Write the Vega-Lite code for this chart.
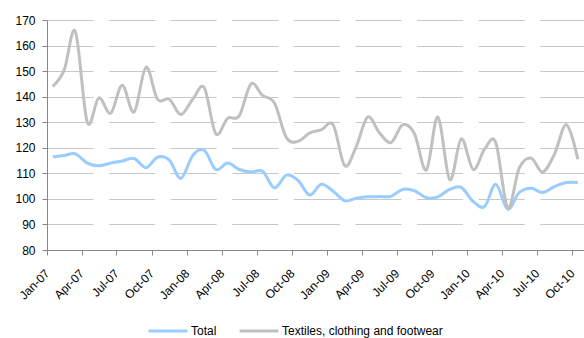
{
  "$schema": "https://vega.github.io/schema/vega-lite/v6.json",
  "width": 537,
  "height": 230,
  "autosize": {"type": "none"},
  "padding": {"left": 47, "top": 20, "right": 0, "bottom": 88},
  "background": "white",
  "config": {
    "view": {"stroke": null},
    "font": "Liberation Sans"
  },
  "data": {
    "values": [
      {"month": "2007-01-16", "Total": 116.5, "Textiles, clothing and footwear": 144},
      {"month": "2007-02-15", "Total": 117, "Textiles, clothing and footwear": 150.5},
      {"month": "2007-03-16", "Total": 117.6, "Textiles, clothing and footwear": 165.5},
      {"month": "2007-04-16", "Total": 114, "Textiles, clothing and footwear": 130},
      {"month": "2007-05-16", "Total": 113, "Textiles, clothing and footwear": 139.5},
      {"month": "2007-06-16", "Total": 114, "Textiles, clothing and footwear": 133.5},
      {"month": "2007-07-16", "Total": 114.8, "Textiles, clothing and footwear": 144.5},
      {"month": "2007-08-16", "Total": 115.8, "Textiles, clothing and footwear": 134},
      {"month": "2007-09-16", "Total": 112.2, "Textiles, clothing and footwear": 151.5},
      {"month": "2007-10-16", "Total": 116.3, "Textiles, clothing and footwear": 139},
      {"month": "2007-11-16", "Total": 115.2, "Textiles, clothing and footwear": 139},
      {"month": "2007-12-16", "Total": 108, "Textiles, clothing and footwear": 133},
      {"month": "2008-01-16", "Total": 117, "Textiles, clothing and footwear": 139},
      {"month": "2008-02-15", "Total": 119, "Textiles, clothing and footwear": 143.5},
      {"month": "2008-03-16", "Total": 111.5, "Textiles, clothing and footwear": 125.5},
      {"month": "2008-04-16", "Total": 114, "Textiles, clothing and footwear": 131.5},
      {"month": "2008-05-16", "Total": 111.5, "Textiles, clothing and footwear": 132.5},
      {"month": "2008-06-16", "Total": 110.5, "Textiles, clothing and footwear": 145},
      {"month": "2008-07-16", "Total": 110.8, "Textiles, clothing and footwear": 140.5},
      {"month": "2008-08-16", "Total": 104.3, "Textiles, clothing and footwear": 137.5},
      {"month": "2008-09-16", "Total": 109.3, "Textiles, clothing and footwear": 124},
      {"month": "2008-10-16", "Total": 107.3, "Textiles, clothing and footwear": 122.5},
      {"month": "2008-11-16", "Total": 101.5, "Textiles, clothing and footwear": 125.8},
      {"month": "2008-12-16", "Total": 105.7, "Textiles, clothing and footwear": 127},
      {"month": "2009-01-16", "Total": 103, "Textiles, clothing and footwear": 129},
      {"month": "2009-02-15", "Total": 99.3, "Textiles, clothing and footwear": 113},
      {"month": "2009-03-16", "Total": 100.2, "Textiles, clothing and footwear": 120},
      {"month": "2009-04-16", "Total": 100.8, "Textiles, clothing and footwear": 132},
      {"month": "2009-05-16", "Total": 100.9, "Textiles, clothing and footwear": 126},
      {"month": "2009-06-16", "Total": 101, "Textiles, clothing and footwear": 122},
      {"month": "2009-07-16", "Total": 103.7, "Textiles, clothing and footwear": 129},
      {"month": "2009-08-16", "Total": 103.2, "Textiles, clothing and footwear": 125.5},
      {"month": "2009-09-16", "Total": 100.5, "Textiles, clothing and footwear": 111.3},
      {"month": "2009-10-16", "Total": 100.8, "Textiles, clothing and footwear": 132},
      {"month": "2009-11-16", "Total": 103.7, "Textiles, clothing and footwear": 107.5},
      {"month": "2009-12-16", "Total": 104.5, "Textiles, clothing and footwear": 123.5},
      {"month": "2010-01-16", "Total": 99, "Textiles, clothing and footwear": 111.5},
      {"month": "2010-02-15", "Total": 97, "Textiles, clothing and footwear": 119.5},
      {"month": "2010-03-16", "Total": 105.7, "Textiles, clothing and footwear": 122},
      {"month": "2010-04-16", "Total": 96, "Textiles, clothing and footwear": 96.5},
      {"month": "2010-05-16", "Total": 102.5, "Textiles, clothing and footwear": 112},
      {"month": "2010-06-16", "Total": 104.2, "Textiles, clothing and footwear": 116},
      {"month": "2010-07-16", "Total": 102.5, "Textiles, clothing and footwear": 110.5},
      {"month": "2010-08-16", "Total": 104.8, "Textiles, clothing and footwear": 117.5},
      {"month": "2010-09-16", "Total": 106.4, "Textiles, clothing and footwear": 129},
      {"month": "2010-10-16", "Total": 106.4, "Textiles, clothing and footwear": 115.5}
    ]
  },
  "transform": [
    {"fold": ["Total", "Textiles, clothing and footwear"], "as": ["series", "index"]}
  ],
  "mark": {"type": "line", "interpolate": "cardinal", "strokeWidth": 3, "clip": true},
  "encoding": {
    "x": {
      "field": "month",
      "type": "temporal",
      "scale": {
        "type": "utc",
        "domain": [
          {"year": 2007, "month": 1, "date": 1, "utc": true},
          {"year": 2010, "month": 11, "date": 1, "utc": true}
        ]
      },
      "axis": {
        "title": null,
        "labelExpr": "utcFormat(datum.value, '%b-%y')",
        "tickCount": {"interval": "month", "step": 3},
        "labelAngle": -45,
        "labelAlign": "right",
        "labelBaseline": "middle",
        "labelPadding": 16,
        "labelFontSize": 12,
        "labelColor": "#000000",
        "labelFlush": false,
        "labelOverlap": false,
        "grid": false,
        "tickSize": 5,
        "tickColor": "#888888",
        "domainColor": "#888888"
      }
    },
    "y": {
      "field": "index",
      "type": "quantitative",
      "scale": {"domain": [80, 170], "nice": false, "zero": false},
      "axis": {
        "title": null,
        "values": [80, 90, 100, 110, 120, 130, 140, 150, 160, 170],
        "labelFontSize": 12,
        "labelColor": "#000000",
        "labelPadding": 7,
        "tickSize": 5,
        "tickColor": "#888888",
        "domainColor": "#888888",
        "grid": true,
        "gridColor": "#c8c8c8",
        "gridDash": [46, 15.6],
        "gridWidth": 1
      }
    },
    "color": {
      "field": "series",
      "type": "nominal",
      "scale": {
        "domain": ["Total", "Textiles, clothing and footwear"],
        "range": ["#99ccff", "#c0c0c0"]
      },
      "legend": {
        "title": null,
        "orient": "none",
        "legendX": 100,
        "legendY": 290,
        "direction": "horizontal",
        "symbolType": "stroke",
        "symbolSize": 1500,
        "symbolStrokeWidth": 3,
        "labelFontSize": 12,
        "labelColor": "#000000",
        "labelLimit": 400,
        "labelOffset": 2,
        "columnPadding": 16
      }
    }
  }
}
